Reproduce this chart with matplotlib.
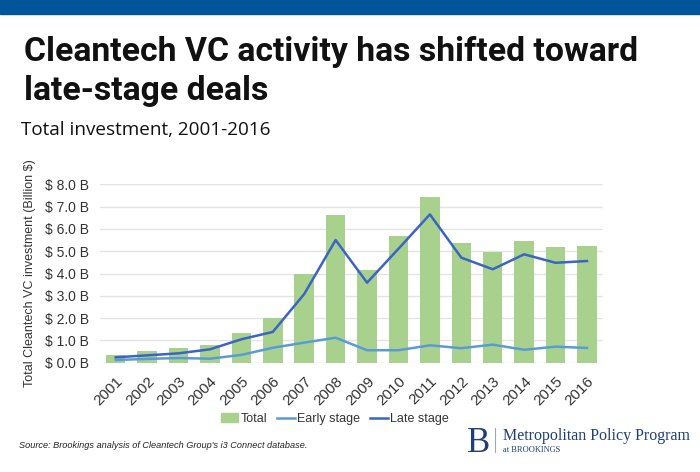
import numpy as np
from matplotlib import pyplot as plt
from matplotlib.patches import Rectangle
from matplotlib.lines import Line2D

"DATA"
years = ['2001', '2002', '2003', '2004', '2005', '2006', '2007', '2008',
         '2009', '2010', '2011', '2012', '2013', '2014', '2015', '2016']
total = [0.35, 0.52, 0.65, 0.79, 1.35, 1.99, 3.99, 6.62,
         4.14, 5.68, 7.42, 5.35, 4.98, 5.44, 5.20, 5.22]
early = [0.12, 0.17, 0.21, 0.18, 0.35, 0.67, 0.90, 1.12,
         0.56, 0.56, 0.78, 0.65, 0.81, 0.58, 0.72, 0.66]
late = [0.24, 0.33, 0.42, 0.60, 1.05, 1.38, 3.08, 5.50,
        3.59, 5.11, 6.65, 4.71, 4.19, 4.86, 4.48, 4.56]
yticks = [0, 1, 2, 3, 4, 5, 6, 7, 8]

green = '#A9D18E'
light_blue = '#5B9BD5'
dark_blue = '#3B64C4'
txt = '#333333'

plt.rcParams['font.family'] = ['Liberation Sans', 'DejaVu Sans']

W, H = 700, 472
fig = plt.figure(figsize=(W/100, H/100), dpi=100)

"TOP BANNER"
fig.patches.append(Rectangle((0, 1 - 14/H), 1, 14/H, transform=fig.transFigure,
                             color='#00559A', zorder=0))

"TITLES"
fig.text(24/W, 1 - 61/H, 'Cleantech VC activity has shifted toward',
         fontsize=24.3, fontweight='bold', family=['Roboto', 'DejaVu Sans'], color='#111111')
fig.text(24/W, 1 - 100/H, 'late-stage deals',
         fontsize=24.3, fontweight='bold', family=['Roboto', 'DejaVu Sans'], color='#111111')
fig.text(21/W, 1 - 135/H, 'Total investment, 2001-2016',
         fontsize=13.6, family=['Open Sans', 'DejaVu Sans'], color='#111111')

"CHART"
ax = fig.add_axes([100/W, 1 - 362.7/H, 502.7/W, 178.4/H])
x = np.arange(len(years))
ax.bar(x, total, width=0.62, color=green, zorder=2, label='Total')
ax.plot(x, early, color=light_blue, linewidth=1.8, zorder=3, label='Early stage')
ax.plot(x, late, color=dark_blue, linewidth=1.8, zorder=3, label='Late stage')

ax.set_xlim(-0.5, len(years) - 0.5)
ax.set_ylim(0, 8)
ax.set_yticks(yticks)
ax.set_yticklabels(['$ %.1f B' % v for v in yticks], fontsize=10, color=txt)
ax.set_xticks(x)
ax.set_xticklabels(years, rotation=45, ha='right', rotation_mode='anchor',
                   fontsize=11, color=txt)
ax.tick_params(axis='y', length=0, pad=8)
ax.tick_params(axis='x', length=0, pad=8)
ax.grid(axis='y', color='#E4E4E4', linewidth=1, zorder=0)
for s in ax.spines.values():
    s.set_visible(False)
ax.set_ylabel('Total Cleantech VC investment (Billion $)', fontsize=9, color=txt)
ax.yaxis.set_label_coords(-0.128, 0.5)

handles = [Rectangle((0, 0), 1, 1, color=green),
           Line2D([0], [0], color=light_blue, linewidth=1.8),
           Line2D([0], [0], color=dark_blue, linewidth=1.8)]
fig.legend(handles, ['Total', 'Early stage', 'Late stage'], loc='center',
           bbox_to_anchor=(335/W, 1 - 419/H), ncol=3, frameon=False,
           fontsize=9, handlelength=1.4, handletextpad=0.2, columnspacing=0.8,
           labelcolor=txt)

"FOOTER"
fig.text(19/W, 1 - 445/H, "Source: Brookings analysis of Cleantech Group's i3 Connect database.",
         fontsize=6.6, style='italic', color='#222222', va='center')
fig.text(467/W, 1 - 452/H, 'B', fontsize=25, family='Liberation Serif', color='#1F3F7A')
fig.add_artist(Line2D([495/W, 495/W], [1 - 428/H, 1 - 452/H],
                      transform=fig.transFigure, color='#9AA8C4', linewidth=0.8))
fig.text(503/W, 1 - 440/H, 'Metropolitan Policy Program', fontsize=11.5,
         family='Liberation Serif', color='#1F3F7A')
fig.text(503/W, 1 - 452/H, 'at BROOKINGS', fontsize=6,
         family='Liberation Serif', color='#1F3F7A')

fig.savefig('out.png', dpi=100)
